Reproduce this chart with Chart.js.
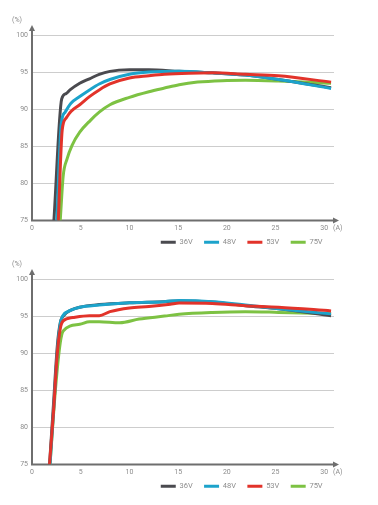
<!DOCTYPE html>
<html>
<head>
<meta charset="utf-8">
<script src="https://cdn.jsdelivr.net/npm/chart.js@4.4.1/dist/chart.umd.min.js"></script>
<style>
    html, body { margin: 0; padding: 0; background: #fff; width: 378px; height: 505px; overflow: hidden; }
    canvas { position: absolute; left: 0; }
</style>
</head>
<body>
<canvas id="chartTop" width="378" height="258" style="top:0px"></canvas>
<canvas id="chartBottom" width="378" height="258" style="top:244px"></canvas>
<script>
// Series names / colours
const seriesLabels = ['36V', '48V', '53V', '75V'];
const seriesColors = ['#4a4a4f', '#1ca3cb', '#e2332a', '#7dc243'];

// Axis ticks
const xTicks = [0, 5, 10, 15, 20, 25, 30];
const yTicks = [75, 80, 85, 90, 95, 100];

// Top chart: current (A) / efficiency (%)
const top36Current = [2.25, 3.05, 3.5, 3.9, 4.9, 5.9, 6.9, 8, 10, 12, 15.1, 18.5, 21.9, 25.3, 30.7];
const top36Eff     = [75, 91.4, 92.1, 92.6, 93.5, 94.1, 94.7, 95.1, 95.3, 95.3, 95.1, 94.9, 94.6, 94.0, 92.9];
const top48Current = [2.55, 3.0, 3.4, 4.0, 4.9, 5.9, 6.9, 8, 10, 12, 15.1, 18.5, 21.9, 25.3, 30.7];
const top48Eff     = [75, 88.0, 89.6, 90.8, 91.7, 92.6, 93.4, 94.0, 94.7, 95.0, 95.1, 94.9, 94.6, 94.0, 92.8];
const top53Current = [2.7, 3.1, 3.5, 4.0, 4.9, 5.9, 6.9, 8, 10, 12, 13.6, 16.1, 18.5, 21.9, 25.3, 30.7];
const top53Eff     = [75, 87.2, 88.8, 89.7, 90.6, 91.7, 92.6, 93.4, 94.2, 94.5, 94.7, 94.85, 94.9, 94.7, 94.5, 93.65];
const top75Current = [2.9, 3.2, 3.6, 4.1, 4.9, 6.0, 6.9, 8, 10, 12, 13.6, 15.1, 17, 19.5, 21.9, 25.3, 30.7];
const top75Eff     = [75, 81, 83.3, 85.1, 86.9, 88.5, 89.6, 90.6, 91.6, 92.35, 92.85, 93.3, 93.65, 93.85, 93.9, 93.8, 93.5];

// Bottom chart
const bot36Current = [1.8, 2.2, 2.6, 2.9, 3.2, 4.0, 4.9, 6.9, 10, 13.6, 15.1, 18.5, 21.9, 25.3, 30.7];
const bot36Eff     = [75, 83, 91, 94.1, 95.0, 95.8, 96.2, 96.55, 96.8, 96.95, 97.05, 96.9, 96.4, 96.0, 95.05];
const bot48Current = [1.85, 2.25, 2.65, 2.95, 3.2, 4.0, 4.9, 6.9, 10, 13.6, 15.1, 18.5, 21.9, 25.3, 30.7];
const bot48Eff     = [75, 83, 91, 94.3, 95.1, 95.8, 96.2, 96.5, 96.8, 96.95, 97.1, 96.95, 96.5, 96.0, 95.3];
const bot53Current = [1.8, 2.2, 2.6, 2.9, 3.2, 4.2, 5.9, 6.9, 8, 10, 12, 14.2, 15.1, 18.5, 21.9, 25.3, 30.7];
const bot53Eff     = [75, 82, 90, 93.3, 94.35, 94.8, 95.05, 95.05, 95.6, 96.1, 96.3, 96.6, 96.75, 96.7, 96.4, 96.2, 95.7];
const bot75Current = [1.85, 2.4, 2.9, 3.2, 4.9, 5.9, 6.9, 9, 11, 13.6, 15.1, 18.5, 21.9, 25.3, 30.7];
const bot75Eff     = [75, 85, 91.4, 93.0, 93.9, 94.25, 94.25, 94.1, 94.6, 95.0, 95.25, 95.5, 95.6, 95.5, 95.3];

const tickColor = '#8c8c8c';
const axisColor = '#6e6e6e';
const fontFamily = 'Roboto, "Liberation Sans", sans-serif';

function toPoints(xs, ys) {
    return xs.map((x, i) => ({ x: x, y: ys[i] }));
}

// axis lines with arrow heads + unit labels
const axisArrows = {
    id: 'axisArrows',
    beforeDatasetsDraw(chart) {
        const { ctx, chartArea: a } = chart;
        ctx.save();
        ctx.strokeStyle = axisColor;
        ctx.fillStyle = axisColor;
        ctx.lineWidth = 2;
        ctx.beginPath();
        ctx.moveTo(a.left, a.bottom);
        ctx.lineTo(a.left, a.top - 5);
        ctx.moveTo(a.left - 1, a.bottom);
        ctx.lineTo(a.right, a.bottom);
        ctx.stroke();
        ctx.beginPath();
        ctx.moveTo(a.left, a.top - 10);
        ctx.lineTo(a.left - 3, a.top - 4);
        ctx.lineTo(a.left + 3, a.top - 4);
        ctx.closePath();
        ctx.fill();
        ctx.beginPath();
        ctx.moveTo(a.right + 5, a.bottom);
        ctx.lineTo(a.right - 1, a.bottom - 3);
        ctx.lineTo(a.right - 1, a.bottom + 3);
        ctx.closePath();
        ctx.fill();
        ctx.fillStyle = tickColor;
        ctx.font = '7px ' + fontFamily;
        ctx.textBaseline = 'middle';
        ctx.textAlign = 'left';
        ctx.fillText('(%)', a.left - 20, a.top - 15);
        ctx.fillText('(A)', a.right - 1, a.bottom + 8);
        ctx.restore();
    }
};

function makeChart(canvasId, xsList, ysList) {
    const ctx = document.getElementById(canvasId).getContext('2d');
    return new Chart(ctx, {
        type: 'line',
        data: {
            datasets: seriesLabels.map((label, i) => ({
                label: label,
                data: toPoints(xsList[i], ysList[i]),
                borderColor: seriesColors[i],
                backgroundColor: seriesColors[i],
                borderWidth: 3,
                pointRadius: 0,
                cubicInterpolationMode: 'monotone',
                order: [3, 2, 1, 4][i]
            }))
        },
        plugins: [axisArrows],
        options: {
            responsive: false,
            animation: false,
            devicePixelRatio: 1,
            layout: { padding: { top: 35, right: 44, left: 0, bottom: 2 } },
            plugins: {
                tooltip: { enabled: false },
                legend: {
                    position: 'bottom',
                    align: 'end',
                    labels: {
                        boxWidth: 15,
                        boxHeight: 3,
                        padding: 6,
                        color: tickColor,
                        font: { family: fontFamily, size: 7.5 },
                        sort: (a, b) => a.datasetIndex - b.datasetIndex,
                        generateLabels: (chart) => {
                            const items = Chart.defaults.plugins.legend.labels.generateLabels(chart);
                            // no outline on the swatch, a bit more room after each label
                            items.forEach(it => { it.lineWidth = 0; it.text = it.text + '\u2002\u2009'; });
                            return items;
                        }
                    }
                }
            },
            scales: {
                x: {
                    type: 'linear',
                    min: 0,
                    max: 31,
                    afterBuildTicks: (scale) => { scale.ticks = xTicks.map(v => ({ value: v })); },
                    afterFit: (scale) => { scale.height = 12; },
                    grid: { display: false, drawTicks: false },
                    border: { display: false },
                    ticks: { color: tickColor, padding: 4, maxRotation: 0, font: { family: fontFamily, size: 7 } }
                },
                y: {
                    min: 75,
                    max: 100,
                    afterBuildTicks: (scale) => { scale.ticks = yTicks.map(v => ({ value: v })); },
                    afterFit: (scale) => { scale.width = 32; },
                    grid: { color: '#cdcdcd', lineWidth: 1, drawTicks: false },
                    border: { display: false },
                    ticks: { color: tickColor, padding: 4, font: { family: fontFamily, size: 7 } }
                }
            }
        }
    });
}

makeChart('chartTop',
    [top36Current, top48Current, top53Current, top75Current],
    [top36Eff, top48Eff, top53Eff, top75Eff]);
makeChart('chartBottom',
    [bot36Current, bot48Current, bot53Current, bot75Current],
    [bot36Eff, bot48Eff, bot53Eff, bot75Eff]);
</script>
</body>
</html>
